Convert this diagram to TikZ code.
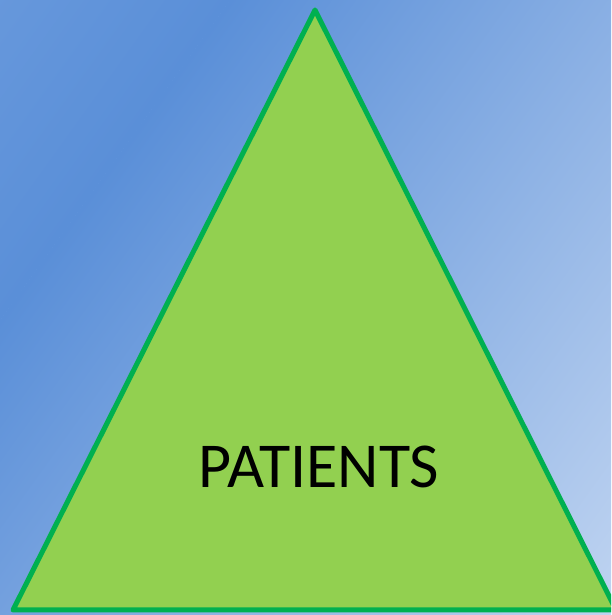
\documentclass[tikz,border=0pt]{standalone}
\usepackage{fontspec}
\newfontfamily\calib{Carlito}
\definecolor{bgA}{HTML}{6B9BDD}
\definecolor{bgB}{HTML}{5A8FD8}
\definecolor{bgC}{HTML}{C4D7F2}
\definecolor{trifill}{HTML}{92D050}
\definecolor{triline}{HTML}{00B050}
\tikzset{
  tri/.style={fill=trifill, draw=triline, line width=5pt, line join=round},
  lbl/.style={font=\calib\fontsize{64}{70}\selectfont, text=black, inner sep=0pt, anchor=base}
}
\begin{document}
\begin{tikzpicture}[x=1pt,y=1pt]
\useasboundingbox (0,0) rectangle (611,615);
\begin{scope}
\clip (0,0) rectangle (611,615);
\begin{scope}[transform canvas={shift={(115,455)}, rotate=-35.7}]
\shade[left color=bgA, right color=bgB] (-260,-800) rectangle (0.5,800);
\shade[left color=bgB, right color=bgC] (0,-800) rectangle (700,800);
\end{scope}
\coordinate (apex) at (315,605);
\coordinate (bl) at (13,5);
\coordinate (br) at (616,5);
\draw[tri] (apex) -- (bl) -- (br) -- cycle;
\node[lbl] (patients) at (319,127) {PATIENTS};
\end{scope}
\end{tikzpicture}
\end{document}
